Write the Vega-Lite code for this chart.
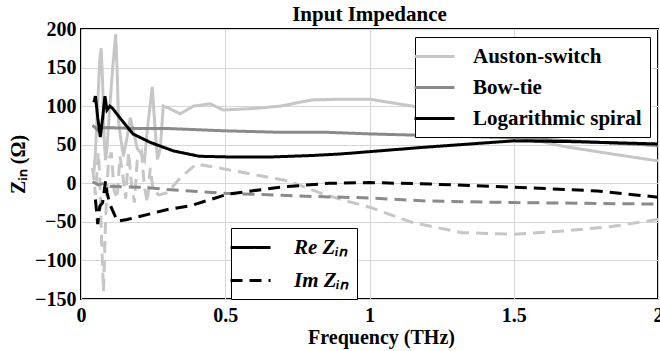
{
  "$schema": "https://vega.github.io/schema/vega-lite/v6.json",
  "width": 577,
  "height": 270,
  "autosize": {"type": "none"},
  "padding": {"left": 81, "top": 29, "right": 2, "bottom": 52},
  "background": "white",
  "title": {"text": "Input Impedance", "fontSize": 21, "font": "Liberation Serif", "fontWeight": "bold", "anchor": "middle", "offset": -6, "frame": "group", "color": "black"},
  "data": {"values": [
    {"f": 0.045, "z": 15, "a": "Auston-switch", "p": "Re Zᵢₙ"},
    {"f": 0.05, "z": 40, "a": "Auston-switch", "p": "Re Zᵢₙ"},
    {"f": 0.055, "z": 80, "a": "Auston-switch", "p": "Re Zᵢₙ"},
    {"f": 0.06, "z": 120, "a": "Auston-switch", "p": "Re Zᵢₙ"},
    {"f": 0.065, "z": 160, "a": "Auston-switch", "p": "Re Zᵢₙ"},
    {"f": 0.07, "z": 175, "a": "Auston-switch", "p": "Re Zᵢₙ"},
    {"f": 0.075, "z": 130, "a": "Auston-switch", "p": "Re Zᵢₙ"},
    {"f": 0.08, "z": 60, "a": "Auston-switch", "p": "Re Zᵢₙ"},
    {"f": 0.085, "z": 30, "a": "Auston-switch", "p": "Re Zᵢₙ"},
    {"f": 0.09, "z": 45, "a": "Auston-switch", "p": "Re Zᵢₙ"},
    {"f": 0.1, "z": 100, "a": "Auston-switch", "p": "Re Zᵢₙ"},
    {"f": 0.11, "z": 150, "a": "Auston-switch", "p": "Re Zᵢₙ"},
    {"f": 0.12, "z": 193, "a": "Auston-switch", "p": "Re Zᵢₙ"},
    {"f": 0.125, "z": 150, "a": "Auston-switch", "p": "Re Zᵢₙ"},
    {"f": 0.13, "z": 80, "a": "Auston-switch", "p": "Re Zᵢₙ"},
    {"f": 0.137, "z": 60, "a": "Auston-switch", "p": "Re Zᵢₙ"},
    {"f": 0.147, "z": 35, "a": "Auston-switch", "p": "Re Zᵢₙ"},
    {"f": 0.16, "z": 60, "a": "Auston-switch", "p": "Re Zᵢₙ"},
    {"f": 0.171, "z": 85, "a": "Auston-switch", "p": "Re Zᵢₙ"},
    {"f": 0.18, "z": 70, "a": "Auston-switch", "p": "Re Zᵢₙ"},
    {"f": 0.195, "z": 45, "a": "Auston-switch", "p": "Re Zᵢₙ"},
    {"f": 0.206, "z": 40, "a": "Auston-switch", "p": "Re Zᵢₙ"},
    {"f": 0.22, "z": 30, "a": "Auston-switch", "p": "Re Zᵢₙ"},
    {"f": 0.23, "z": 70, "a": "Auston-switch", "p": "Re Zᵢₙ"},
    {"f": 0.247, "z": 125, "a": "Auston-switch", "p": "Re Zᵢₙ"},
    {"f": 0.257, "z": 70, "a": "Auston-switch", "p": "Re Zᵢₙ"},
    {"f": 0.265, "z": 31, "a": "Auston-switch", "p": "Re Zᵢₙ"},
    {"f": 0.275, "z": 45, "a": "Auston-switch", "p": "Re Zᵢₙ"},
    {"f": 0.285, "z": 100, "a": "Auston-switch", "p": "Re Zᵢₙ"},
    {"f": 0.3, "z": 98, "a": "Auston-switch", "p": "Re Zᵢₙ"},
    {"f": 0.344, "z": 90, "a": "Auston-switch", "p": "Re Zᵢₙ"},
    {"f": 0.39, "z": 100, "a": "Auston-switch", "p": "Re Zᵢₙ"},
    {"f": 0.448, "z": 103, "a": "Auston-switch", "p": "Re Zᵢₙ"},
    {"f": 0.493, "z": 95, "a": "Auston-switch", "p": "Re Zᵢₙ"},
    {"f": 0.6, "z": 97, "a": "Auston-switch", "p": "Re Zᵢₙ"},
    {"f": 0.69, "z": 100, "a": "Auston-switch", "p": "Re Zᵢₙ"},
    {"f": 0.8, "z": 108, "a": "Auston-switch", "p": "Re Zᵢₙ"},
    {"f": 0.9, "z": 109, "a": "Auston-switch", "p": "Re Zᵢₙ"},
    {"f": 1.0, "z": 109, "a": "Auston-switch", "p": "Re Zᵢₙ"},
    {"f": 1.15, "z": 100, "a": "Auston-switch", "p": "Re Zᵢₙ"},
    {"f": 1.32, "z": 83, "a": "Auston-switch", "p": "Re Zᵢₙ"},
    {"f": 1.5, "z": 62, "a": "Auston-switch", "p": "Re Zᵢₙ"},
    {"f": 1.67, "z": 48, "a": "Auston-switch", "p": "Re Zᵢₙ"},
    {"f": 1.84, "z": 38, "a": "Auston-switch", "p": "Re Zᵢₙ"},
    {"f": 2.0, "z": 29, "a": "Auston-switch", "p": "Re Zᵢₙ"},

    {"f": 0.04, "z": 20, "a": "Auston-switch", "p": "Im Zᵢₙ"},
    {"f": 0.05, "z": -15, "a": "Auston-switch", "p": "Im Zᵢₙ"},
    {"f": 0.06, "z": 40, "a": "Auston-switch", "p": "Im Zᵢₙ"},
    {"f": 0.065, "z": 10, "a": "Auston-switch", "p": "Im Zᵢₙ"},
    {"f": 0.07, "z": -60, "a": "Auston-switch", "p": "Im Zᵢₙ"},
    {"f": 0.078, "z": -140, "a": "Auston-switch", "p": "Im Zᵢₙ"},
    {"f": 0.085, "z": -50, "a": "Auston-switch", "p": "Im Zᵢₙ"},
    {"f": 0.095, "z": 30, "a": "Auston-switch", "p": "Im Zᵢₙ"},
    {"f": 0.105, "z": 40, "a": "Auston-switch", "p": "Im Zᵢₙ"},
    {"f": 0.115, "z": -10, "a": "Auston-switch", "p": "Im Zᵢₙ"},
    {"f": 0.125, "z": -20, "a": "Auston-switch", "p": "Im Zᵢₙ"},
    {"f": 0.135, "z": 35, "a": "Auston-switch", "p": "Im Zᵢₙ"},
    {"f": 0.145, "z": 10, "a": "Auston-switch", "p": "Im Zᵢₙ"},
    {"f": 0.155, "z": -20, "a": "Auston-switch", "p": "Im Zᵢₙ"},
    {"f": 0.165, "z": 40, "a": "Auston-switch", "p": "Im Zᵢₙ"},
    {"f": 0.175, "z": 0, "a": "Auston-switch", "p": "Im Zᵢₙ"},
    {"f": 0.185, "z": -25, "a": "Auston-switch", "p": "Im Zᵢₙ"},
    {"f": 0.195, "z": 30, "a": "Auston-switch", "p": "Im Zᵢₙ"},
    {"f": 0.21, "z": 40, "a": "Auston-switch", "p": "Im Zᵢₙ"},
    {"f": 0.22, "z": -5, "a": "Auston-switch", "p": "Im Zᵢₙ"},
    {"f": 0.23, "z": -25, "a": "Auston-switch", "p": "Im Zᵢₙ"},
    {"f": 0.24, "z": 20, "a": "Auston-switch", "p": "Im Zᵢₙ"},
    {"f": 0.25, "z": -10, "a": "Auston-switch", "p": "Im Zᵢₙ"},
    {"f": 0.27, "z": -15, "a": "Auston-switch", "p": "Im Zᵢₙ"},
    {"f": 0.3, "z": -12, "a": "Auston-switch", "p": "Im Zᵢₙ"},
    {"f": 0.344, "z": 7, "a": "Auston-switch", "p": "Im Zᵢₙ"},
    {"f": 0.4, "z": 25, "a": "Auston-switch", "p": "Im Zᵢₙ"},
    {"f": 0.49, "z": 19, "a": "Auston-switch", "p": "Im Zᵢₙ"},
    {"f": 0.63, "z": 9, "a": "Auston-switch", "p": "Im Zᵢₙ"},
    {"f": 0.72, "z": 3, "a": "Auston-switch", "p": "Im Zᵢₙ"},
    {"f": 0.84, "z": -14, "a": "Auston-switch", "p": "Im Zᵢₙ"},
    {"f": 0.94, "z": -25, "a": "Auston-switch", "p": "Im Zᵢₙ"},
    {"f": 1.0, "z": -31, "a": "Auston-switch", "p": "Im Zᵢₙ"},
    {"f": 1.15, "z": -51, "a": "Auston-switch", "p": "Im Zᵢₙ"},
    {"f": 1.32, "z": -64, "a": "Auston-switch", "p": "Im Zᵢₙ"},
    {"f": 1.5, "z": -66, "a": "Auston-switch", "p": "Im Zᵢₙ"},
    {"f": 1.67, "z": -62, "a": "Auston-switch", "p": "Im Zᵢₙ"},
    {"f": 1.84, "z": -56, "a": "Auston-switch", "p": "Im Zᵢₙ"},
    {"f": 2.0, "z": -47, "a": "Auston-switch", "p": "Im Zᵢₙ"},

    {"f": 0.04, "z": 75, "a": "Bow-tie", "p": "Re Zᵢₙ"},
    {"f": 0.05, "z": 72, "a": "Bow-tie", "p": "Re Zᵢₙ"},
    {"f": 0.06, "z": 68, "a": "Bow-tie", "p": "Re Zᵢₙ"},
    {"f": 0.07, "z": 72, "a": "Bow-tie", "p": "Re Zᵢₙ"},
    {"f": 0.1, "z": 72, "a": "Bow-tie", "p": "Re Zᵢₙ"},
    {"f": 0.2, "z": 71, "a": "Bow-tie", "p": "Re Zᵢₙ"},
    {"f": 0.3, "z": 71, "a": "Bow-tie", "p": "Re Zᵢₙ"},
    {"f": 0.5, "z": 68, "a": "Bow-tie", "p": "Re Zᵢₙ"},
    {"f": 0.7, "z": 66, "a": "Bow-tie", "p": "Re Zᵢₙ"},
    {"f": 0.86, "z": 66, "a": "Bow-tie", "p": "Re Zᵢₙ"},
    {"f": 1.0, "z": 64, "a": "Bow-tie", "p": "Re Zᵢₙ"},
    {"f": 1.2, "z": 62, "a": "Bow-tie", "p": "Re Zᵢₙ"},
    {"f": 1.5, "z": 59, "a": "Bow-tie", "p": "Re Zᵢₙ"},
    {"f": 1.7, "z": 55, "a": "Bow-tie", "p": "Re Zᵢₙ"},
    {"f": 2.0, "z": 49, "a": "Bow-tie", "p": "Re Zᵢₙ"},

    {"f": 0.04, "z": 2, "a": "Bow-tie", "p": "Im Zᵢₙ"},
    {"f": 0.06, "z": -2, "a": "Bow-tie", "p": "Im Zᵢₙ"},
    {"f": 0.08, "z": 0, "a": "Bow-tie", "p": "Im Zᵢₙ"},
    {"f": 0.1, "z": -4, "a": "Bow-tie", "p": "Im Zᵢₙ"},
    {"f": 0.2, "z": -5, "a": "Bow-tie", "p": "Im Zᵢₙ"},
    {"f": 0.3, "z": -8, "a": "Bow-tie", "p": "Im Zᵢₙ"},
    {"f": 0.5, "z": -13, "a": "Bow-tie", "p": "Im Zᵢₙ"},
    {"f": 0.8, "z": -17, "a": "Bow-tie", "p": "Im Zᵢₙ"},
    {"f": 1.0, "z": -19, "a": "Bow-tie", "p": "Im Zᵢₙ"},
    {"f": 1.2, "z": -23, "a": "Bow-tie", "p": "Im Zᵢₙ"},
    {"f": 1.5, "z": -25, "a": "Bow-tie", "p": "Im Zᵢₙ"},
    {"f": 2.0, "z": -27, "a": "Bow-tie", "p": "Im Zᵢₙ"},

    {"f": 0.045, "z": 105, "a": "Logarithmic spiral", "p": "Re Zᵢₙ"},
    {"f": 0.05, "z": 113, "a": "Logarithmic spiral", "p": "Re Zᵢₙ"},
    {"f": 0.058, "z": 85, "a": "Logarithmic spiral", "p": "Re Zᵢₙ"},
    {"f": 0.067, "z": 60, "a": "Logarithmic spiral", "p": "Re Zᵢₙ"},
    {"f": 0.075, "z": 85, "a": "Logarithmic spiral", "p": "Re Zᵢₙ"},
    {"f": 0.083, "z": 113, "a": "Logarithmic spiral", "p": "Re Zᵢₙ"},
    {"f": 0.09, "z": 95, "a": "Logarithmic spiral", "p": "Re Zᵢₙ"},
    {"f": 0.1, "z": 100, "a": "Logarithmic spiral", "p": "Re Zᵢₙ"},
    {"f": 0.11, "z": 97, "a": "Logarithmic spiral", "p": "Re Zᵢₙ"},
    {"f": 0.13, "z": 87, "a": "Logarithmic spiral", "p": "Re Zᵢₙ"},
    {"f": 0.18, "z": 64, "a": "Logarithmic spiral", "p": "Re Zᵢₙ"},
    {"f": 0.24, "z": 53, "a": "Logarithmic spiral", "p": "Re Zᵢₙ"},
    {"f": 0.32, "z": 42, "a": "Logarithmic spiral", "p": "Re Zᵢₙ"},
    {"f": 0.41, "z": 35, "a": "Logarithmic spiral", "p": "Re Zᵢₙ"},
    {"f": 0.53, "z": 34, "a": "Logarithmic spiral", "p": "Re Zᵢₙ"},
    {"f": 0.65, "z": 34, "a": "Logarithmic spiral", "p": "Re Zᵢₙ"},
    {"f": 0.8, "z": 36, "a": "Logarithmic spiral", "p": "Re Zᵢₙ"},
    {"f": 0.9, "z": 38, "a": "Logarithmic spiral", "p": "Re Zᵢₙ"},
    {"f": 1.0, "z": 41, "a": "Logarithmic spiral", "p": "Re Zᵢₙ"},
    {"f": 1.2, "z": 47, "a": "Logarithmic spiral", "p": "Re Zᵢₙ"},
    {"f": 1.35, "z": 51, "a": "Logarithmic spiral", "p": "Re Zᵢₙ"},
    {"f": 1.5, "z": 55, "a": "Logarithmic spiral", "p": "Re Zᵢₙ"},
    {"f": 1.7, "z": 54, "a": "Logarithmic spiral", "p": "Re Zᵢₙ"},
    {"f": 2.0, "z": 51, "a": "Logarithmic spiral", "p": "Re Zᵢₙ"},

    {"f": 0.05, "z": -21, "a": "Logarithmic spiral", "p": "Im Zᵢₙ"},
    {"f": 0.058, "z": -53, "a": "Logarithmic spiral", "p": "Im Zᵢₙ"},
    {"f": 0.065, "z": -30, "a": "Logarithmic spiral", "p": "Im Zᵢₙ"},
    {"f": 0.075, "z": -25, "a": "Logarithmic spiral", "p": "Im Zᵢₙ"},
    {"f": 0.085, "z": 3, "a": "Logarithmic spiral", "p": "Im Zᵢₙ"},
    {"f": 0.09, "z": -12, "a": "Logarithmic spiral", "p": "Im Zᵢₙ"},
    {"f": 0.1, "z": -27, "a": "Logarithmic spiral", "p": "Im Zᵢₙ"},
    {"f": 0.126, "z": -49, "a": "Logarithmic spiral", "p": "Im Zᵢₙ"},
    {"f": 0.16, "z": -47, "a": "Logarithmic spiral", "p": "Im Zᵢₙ"},
    {"f": 0.3, "z": -34, "a": "Logarithmic spiral", "p": "Im Zᵢₙ"},
    {"f": 0.38, "z": -29, "a": "Logarithmic spiral", "p": "Im Zᵢₙ"},
    {"f": 0.51, "z": -14, "a": "Logarithmic spiral", "p": "Im Zᵢₙ"},
    {"f": 0.69, "z": -5, "a": "Logarithmic spiral", "p": "Im Zᵢₙ"},
    {"f": 0.86, "z": 0, "a": "Logarithmic spiral", "p": "Im Zᵢₙ"},
    {"f": 1.0, "z": 1, "a": "Logarithmic spiral", "p": "Im Zᵢₙ"},
    {"f": 1.21, "z": -1, "a": "Logarithmic spiral", "p": "Im Zᵢₙ"},
    {"f": 1.5, "z": -5, "a": "Logarithmic spiral", "p": "Im Zᵢₙ"},
    {"f": 1.79, "z": -10, "a": "Logarithmic spiral", "p": "Im Zᵢₙ"},
    {"f": 2.0, "z": -18, "a": "Logarithmic spiral", "p": "Im Zᵢₙ"}
  ]},
  "mark": {"type": "line", "strokeWidth": 3, "clip": true},
  "encoding": {
    "x": {
      "field": "f", "type": "quantitative",
      "scale": {"domain": [0, 2], "nice": false},
      "axis": {"values": [0, 0.5, 1, 1.5, 2], "format": "~g", "labelFlush": false, "title": "Frequency (THz)", "labelPadding": 6, "titlePadding": 2, "titleX": 300}
    },
    "y": {
      "field": "z", "type": "quantitative",
      "scale": {"domain": [-150, 200], "nice": false},
      "axis": {"values": [-150, -100, -50, 0, 50, 100, 150, 200], "title": "Zᵢₙ (Ω)", "labelPadding": 5, "titlePadding": 6}
    },
    "color": {
      "field": "a", "type": "nominal",
      "scale": {"domain": ["Auston-switch", "Bow-tie", "Logarithmic spiral"], "range": ["#c6c6c6", "#8a8a8a", "#000000"]},
      "legend": {"title": null, "orient": "none", "legendX": 334, "legendY": 8, "strokeColor": "black", "fillColor": "white", "padding": 8, "symbolType": "M-2,0H2", "symbolSize": 400, "symbolStrokeWidth": 3, "labelFontSize": 21, "labelFont": "Liberation Serif", "labelFontWeight": "bold", "labelColor": "black", "labelLimit": 400, "rowPadding": 9, "labelOffset": 27}
    },
    "strokeDash": {
      "field": "p", "type": "nominal",
      "scale": {"domain": ["Re Zᵢₙ", "Im Zᵢₙ"], "range": [[1, 0], [12, 7]]},
      "legend": {"title": null, "orient": "none", "legendX": 150, "legendY": 199, "strokeColor": "black", "fillColor": "white", "padding": 8, "symbolType": "M-2,0H2", "symbolSize": 400, "symbolStrokeWidth": 3, "symbolStrokeColor": "black", "symbolDash": [14, 9], "labelFontSize": 21, "labelFont": "Liberation Serif", "labelFontWeight": "bold", "labelFontStyle": "italic", "labelColor": "black", "labelLimit": 400, "rowPadding": 11, "labelOffset": 32}
    }
  },
  "config": {
    "view": {"stroke": "black", "strokeWidth": 2},
    "axis": {
      "domain": false, "ticks": false, "grid": true, "gridColor": "#d6d6d6", "gridWidth": 1,
      "labelFont": "Liberation Serif", "labelFontSize": 20, "labelFontWeight": "bold", "labelColor": "black",
      "titleFont": "Liberation Serif", "titleFontSize": 20, "titleFontWeight": "bold", "titleColor": "black"
    }
  }
}
